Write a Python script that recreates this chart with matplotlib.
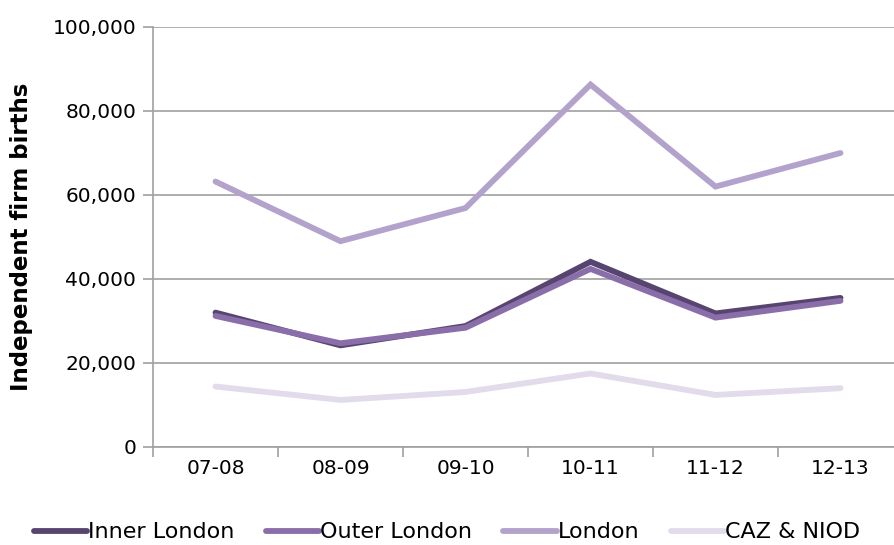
import matplotlib.pyplot as plt
import numpy as np
from matplotlib.ticker import FuncFormatter, FixedLocator

## Data
years = ['07-08', '08-09', '09-10', '10-11', '11-12', '12-13']
inner_london = [32000, 24200, 28800, 44100, 31800, 35500]
outer_london = [31200, 24700, 28400, 42400, 30800, 34800]
london = [63200, 49000, 56900, 86300, 62000, 70000]
caz_niod = [14400, 11200, 13100, 17500, 12400, 14000]

series = [
    (inner_london, 'Inner London', '#574570'),
    (outer_london, 'Outer London', '#8a6eaa'),
    (london, 'London', '#b3a2cb'),
    (caz_niod, 'CAZ & NIOD', '#e1dbea'),
]

grid_col = '#a0a0a0'

fig = plt.figure(figsize=(8.94, 5.45), dpi=100)
ax = fig.add_axes([153 / 894, 98 / 545, 1 - 153 / 894, 420 / 545])

x = np.arange(len(years))
for vals, name, col in series:
    ax.plot(x, vals, color=col, lw=4.2, label=name, solid_capstyle='round',
            solid_joinstyle='miter')

ax.set_ylim(0, 100000)
ax.set_yticks(np.arange(0, 100001, 20000))
ax.yaxis.set_major_formatter(FuncFormatter(lambda v, p: f'{int(v):,}'))
ax.set_xlim(-0.5, -0.5 + (894 - 153) / 125)
ax.set_xticks(x)
ax.set_xticklabels(years)
ax.xaxis.set_minor_locator(FixedLocator(np.arange(-0.5, 6, 1)))

ax.grid(axis='y', color=grid_col, lw=1.2)
ax.set_axisbelow(True)
for s in ['top', 'right']:
    ax.spines[s].set_visible(False)
for s in ['left', 'bottom']:
    ax.spines[s].set_color(grid_col)
    ax.spines[s].set_linewidth(1.2)

ax.tick_params(axis='y', length=7, color=grid_col, width=1.2, labelsize=14.5, pad=5)
ax.tick_params(axis='x', which='major', length=0, labelsize=14.5, pad=9)
ax.tick_params(axis='x', which='minor', length=7, color=grid_col, width=1.2)

ax.set_ylabel('Independent firm births', fontsize=16.5, fontweight='bold', labelpad=14)

fig.legend(loc='lower center', bbox_to_anchor=(0.5, -0.032), ncol=4, frameon=False,
           fontsize=16, handlelength=2.4, handletextpad=0.05, columnspacing=1.4)

fig.savefig('out.png', dpi=100)
